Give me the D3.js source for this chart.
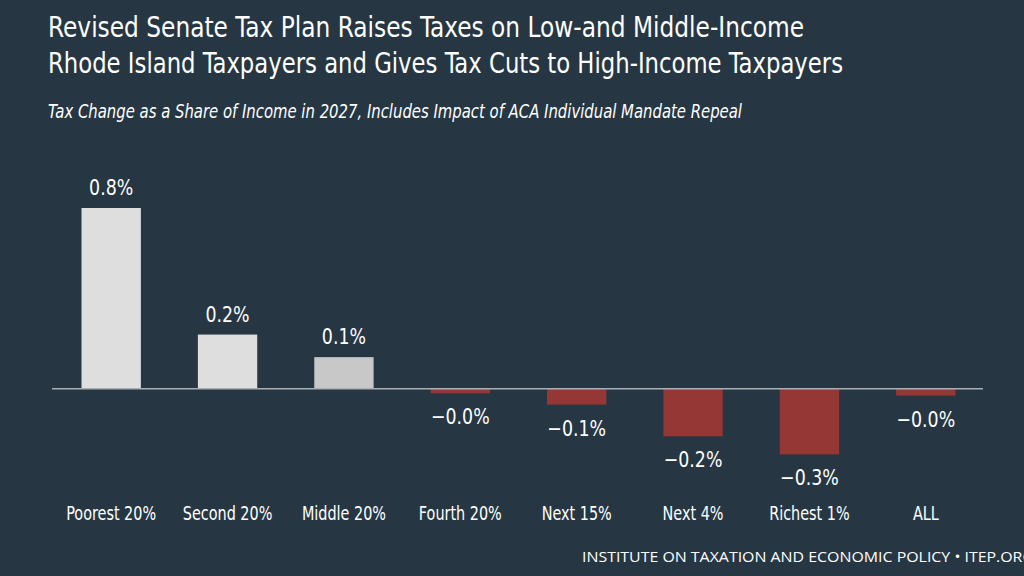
<!DOCTYPE html>
<html>
<head>
<meta charset="utf-8">
<script src="https://cdn.jsdelivr.net/npm/d3@7"></script>
<style>
  html, body { margin: 0; padding: 0; background: #263743; overflow: hidden; }
  svg { display: block; }
  .cond { font-family: "Liberation Sans Narrow", "DejaVu Sans Condensed", "Roboto", sans-serif; font-stretch: condensed; }
</style>
</head>
<body>
<svg id="chart" width="1024" height="576"></svg>
<script>
const categories = ["Poorest 20%", "Second 20%", "Middle 20%", "Fourth 20%", "Next 15%", "Next 4%", "Richest 1%", "ALL"];
const values = [0.80, 0.24, 0.14, -0.02, -0.07, -0.21, -0.29, -0.03];
const titleLines = [
  "Revised Senate Tax Plan Raises Taxes on Low-and Middle-Income",
  "Rhode Island Taxpayers and Gives Tax Cuts to High-Income Taxpayers"
];
const subtitle = "Tax Change as a Share of Income in 2027, Includes Impact of ACA Individual Mandate Repeal";
const footer = "INSTITUTE ON TAXATION AND ECONOMIC POLICY \u2022 ITEP.ORG";

const svg = d3.select("#chart");
const W = 1024, H = 576;
svg.append("rect").attr("width", W).attr("height", H).attr("fill", "#263743");

// squeeze text horizontally by a factor, to imitate a condensed face
function squeeze(sel, k) {
  sel.each(function () {
    const len = this.getComputedTextLength();
    d3.select(this).attr("textLength", len * k).attr("lengthAdjust", "spacingAndGlyphs");
  });
}

// Title
const titleLen = [756, 795];
svg.selectAll("text.title").data(titleLines).join("text")
  .attr("class", "title cond")
  .attr("x", 48)
  .attr("y", (d, i) => 37 + i * 36)
  .attr("fill", "#ffffff")
  .attr("font-size", 29)
  .attr("textLength", (d, i) => titleLen[i])
  .attr("lengthAdjust", "spacingAndGlyphs")
  .text(d => d);

svg.append("text")
  .attr("class", "cond")
  .attr("x", 48).attr("y", 118)
  .attr("fill", "#ffffff")
  .attr("font-size", 19)
  .attr("font-style", "italic")
  .attr("textLength", 694)
  .attr("lengthAdjust", "spacingAndGlyphs")
  .text(subtitle);

// Scales
const x = d3.scaleBand().domain(categories).range([53, 984]).paddingInner(0.49).paddingOuter(0.245);
const y = d3.scaleLinear().domain([-0.3, 0.8]).range([456.6, 208]);

const barColor = (d, i) => d < 0 ? "#943735" : (i === 2 ? "#c8c8c8" : "#dedede");

svg.selectAll("rect.bar").data(values).join("rect")
  .attr("class", "bar")
  .attr("x", (d, i) => x(categories[i]))
  .attr("width", x.bandwidth())
  .attr("y", d => y(Math.max(0, d)))
  .attr("height", d => Math.abs(y(d) - y(0)))
  .attr("fill", barColor);

// zero line
svg.append("line")
  .attr("x1", 52).attr("x2", 983)
  .attr("y1", y(0)).attr("y2", y(0))
  .attr("stroke", "#a9b0b5").attr("stroke-width", 1.5);

const fmt = v => (v < 0 ? "\u2212" : "") + d3.format(".1f")(Math.abs(v)) + "%";

svg.selectAll("text.val").data(values).join("text")
  .attr("class", "val cond")
  .attr("x", (d, i) => x(categories[i]) + x.bandwidth() / 2)
  .attr("y", d => d >= 0 ? y(d) - 13 : y(d) + 31)
  .attr("text-anchor", "middle")
  .attr("fill", "#ffffff")
  .attr("font-size", 21)
  .text(fmt)
  .call(squeeze, 0.92);

svg.selectAll("text.cat").data(categories).join("text")
  .attr("class", "cat cond")
  .attr("x", d => x(d) + x.bandwidth() / 2)
  .attr("y", 520)
  .attr("text-anchor", "middle")
  .attr("fill", "#ffffff")
  .attr("font-size", 20)
  .text(d => d)
  .call(squeeze, 0.8);

svg.append("text")
  .attr("x", 582).attr("y", 562)
  .attr("fill", "#ffffff")
  .attr("font-family", "'Open Sans', 'Noto Sans', sans-serif")
  .attr("font-size", 14)
  .attr("textLength", 452)
  .attr("lengthAdjust", "spacingAndGlyphs")
  .text(footer);
</script>
</body>
</html>
